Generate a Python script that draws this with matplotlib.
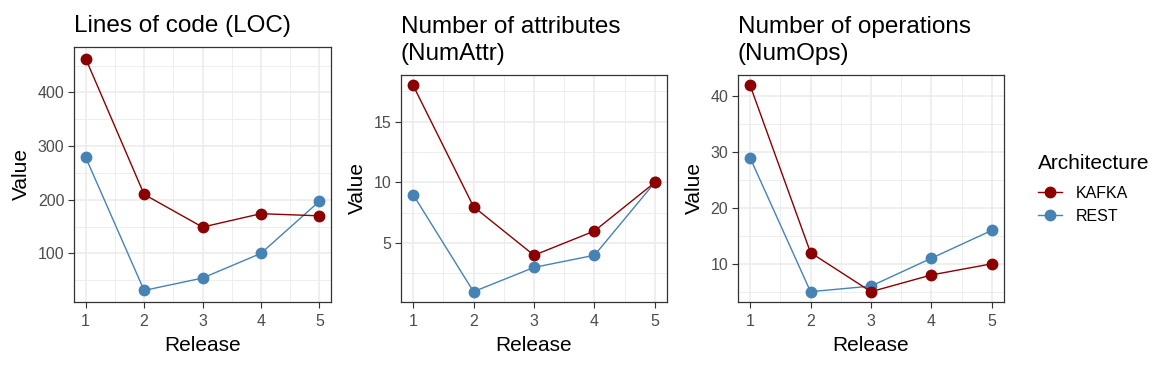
import matplotlib.pyplot as plt
from matplotlib.ticker import MultipleLocator
from matplotlib.lines import Line2D

plt.rcParams['font.family'] = ['Liberation Sans', 'DejaVu Sans']

# Datos
releases = [1, 2, 3, 4, 5]
loc_kafka = [463, 210, 149, 174, 170]
loc_rest = [279, 31, 54, 100, 197]
attr_kafka = [18, 8, 4, 6, 10]
attr_rest = [9, 1, 3, 4, 10]
ops_kafka = [42, 12, 5, 8, 10]
ops_rest = [29, 5, 6, 11, 16]

titulos = ["Lines of code (LOC)", "Number of attributes\n(NumAttr)", "Number of operations\n(NumOps)"]
series = [(loc_kafka, loc_rest), (attr_kafka, attr_rest), (ops_kafka, ops_rest)]
pasos = [100, 5, 10]

c_kafka = "#8B0000"
c_rest = "#4682B4"

W, H = 1173, 366
fig = plt.figure(figsize=(W / 100, H / 100), dpi=100)

# posiciones de los paneles en pixeles (izq, der, arriba, abajo)
paneles = [(74, 331, 47, 302), (401, 667, 75, 302), (738, 1004, 75, 302)]

for (l, r, t, b), titulo, (yk, yr), paso in zip(paneles, titulos, series, pasos):
    ax = fig.add_axes([l / W, 1 - b / H, (r - l) / W, (b - t) / H])
    ax.plot(releases, yr, color=c_rest, lw=1.0, marker="o", ms=7.5, zorder=3)
    ax.plot(releases, yk, color=c_kafka, lw=1.0, marker="o", ms=7.5, zorder=3)

    # expansion tipo ggplot (5%)
    todos = yk + yr
    lo, hi = min(todos), max(todos)
    pad = (hi - lo) * 0.05
    ax.set_ylim(lo - pad, hi + pad)
    ax.set_xlim(1 - 0.2, 5 + 0.2)

    ax.xaxis.set_major_locator(MultipleLocator(1))
    ax.xaxis.set_minor_locator(MultipleLocator(0.5))
    ax.yaxis.set_major_locator(MultipleLocator(paso))
    ax.yaxis.set_minor_locator(MultipleLocator(paso / 2))
    ax.grid(which="major", color="#EBEBEB", lw=1.1, zorder=0)
    ax.grid(which="minor", color="#EBEBEB", lw=0.6, zorder=0)
    ax.set_axisbelow(True)
    ax.tick_params(which="minor", length=0)
    ax.tick_params(which="major", length=4, width=0.8, color="#333333",
                   labelsize=11.5, labelcolor="#4D4D4D", pad=3)
    ax.tick_params(axis="x", pad=4.5)
    for s in ax.spines.values():
        s.set_color("#333333")
        s.set_linewidth(0.9)

    ax.set_xlabel("Release", fontsize=15, labelpad=5)
    ax.set_ylabel("Value", fontsize=15, labelpad=5)
    ax.set_title(titulo, fontsize=17.5, loc="left", pad=11, linespacing=1.3)

# Leyenda
handles = [
    Line2D([], [], color=c_kafka, lw=1.0, marker="o", ms=7.5),
    Line2D([], [], color=c_rest, lw=1.0, marker="o", ms=7.5),
]
leg = fig.legend(handles, ["KAFKA", "REST"], title="Architecture",
                 loc="upper left", bbox_to_anchor=(1024 / W, 1 - 140 / H),
                 frameon=False, fontsize=11.5, title_fontsize=15,
                 handlelength=1.5, handletextpad=0.85, labelspacing=0.5)
leg._legend_box.align = "left"
leg._legend_box.sep = 9

plt.savefig("out.png", dpi=100)
